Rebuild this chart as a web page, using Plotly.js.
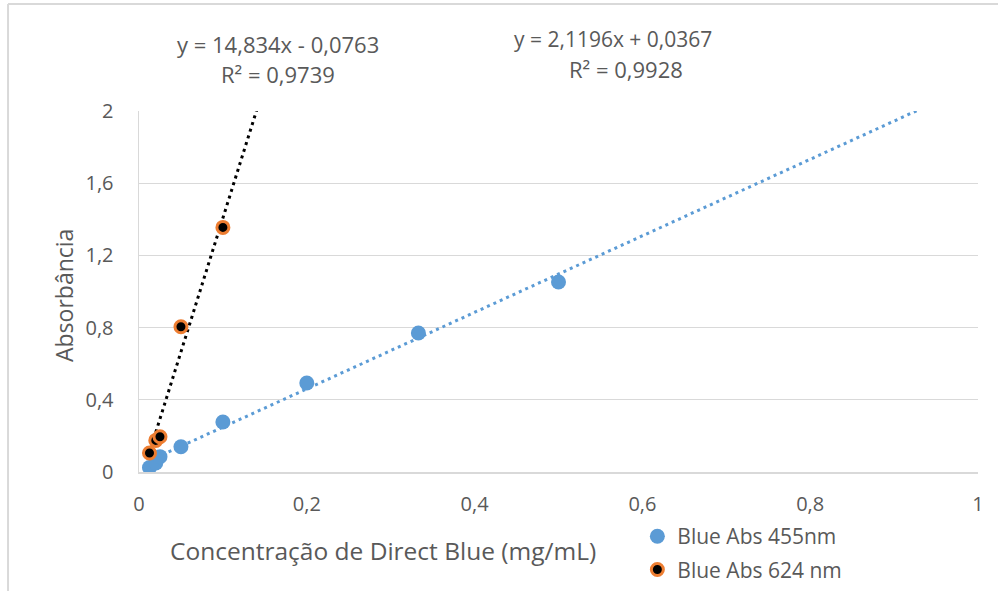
<!DOCTYPE html>
<html>
<head>
<meta charset="utf-8">
<script src="https://cdn.plot.ly/plotly-3.0.1.min.js"></script>
<style>
html,body{margin:0;padding:0;background:#fff;}
#chart{width:998px;height:591px;}
</style>
</head>
<body>
<div id="chart"></div>
<script>
// Data
var conc455 = [0.0125, 0.02, 0.025, 0.05, 0.1, 0.2, 0.333, 0.5];
var abs455  = [0.025, 0.05, 0.085, 0.14, 0.277, 0.493, 0.77, 1.053];
var conc624 = [0.0125, 0.02, 0.025, 0.05, 0.1];
var abs624  = [0.105, 0.175, 0.195, 0.805, 1.355];

// Trendline coefficients (from the equations shown on the chart)
var trendSlope = [2.1196, 14.834];
var trendIntercept = [0.0367, -0.0763];
var trendXEnd = [1, 1];

var seriesNames = ['Blue Abs 455nm', 'Blue Abs 624 nm'];
var eqTexts = ['y = 2,1196x + 0,0367', 'y = 14,834x - 0,0763'];
var r2Texts = ['R² = 0,9928', 'R² = 0,9739'];

var FONT = 'Open Sans, Liberation Sans, sans-serif';
var GRAY = '#595959';

function trend(i, xs) {
  var x0 = Math.min.apply(null, xs), x1 = trendXEnd[i];
  return {x: [x0, x1], y: [trendSlope[i]*x0 + trendIntercept[i], trendSlope[i]*x1 + trendIntercept[i]]};
}
var t0 = trend(0, conc455), t1 = trend(1, conc624);

var data = [
  {x: t0.x, y: t0.y, mode: 'lines', showlegend: false, hoverinfo: 'skip',
   line: {color: '#5B9BD5', width: 3, dash: '3px,4px'}},
  {x: t1.x, y: t1.y, mode: 'lines', showlegend: false, hoverinfo: 'skip',
   line: {color: '#000000', width: 3, dash: '3px,4px'}},
  {x: conc455, y: abs455, mode: 'markers', name: seriesNames[0], legendgroup: 'a',
   marker: {color: '#5B9BD5', size: 15, line: {width: 0}}},
  {x: conc624, y: abs624, mode: 'markers', name: seriesNames[1], legendgroup: 'b',
   marker: {color: '#000000', size: 12, line: {color: '#ED7D31', width: 3}}}
];

function ann(text, px, py, size, extra) {
  var a = {text: text, xref: 'paper', yref: 'paper', x: (px - 139) / 839, y: (472 - py) / 361,
           xanchor: 'center', yanchor: 'middle', showarrow: false,
           font: {family: FONT, size: size, color: GRAY}};
  if (extra) for (var k in extra) a[k] = extra[k];
  return a;
}

var layout = {
  width: 998, height: 591,
  margin: {l: 139, r: 20, t: 111, b: 119, autoexpand: false},
  paper_bgcolor: '#fff', plot_bgcolor: '#fff',
  separators: ', ',
  font: {family: FONT, color: GRAY, size: 20},
  showlegend: true,
  legend: {x: 0.594, y: -0.122, xanchor: 'left', yanchor: 'top', traceorder: 'grouped',
           font: {family: FONT, size: 21, color: GRAY}, tracegroupgap: 3,
           itemwidth: 30, bgcolor: 'rgba(0,0,0,0)'},
  xaxis: {range: [0, 1], dtick: 0.2, tick0: 0, showgrid: false, zeroline: false,
          showline: true, linecolor: '#D9D9D9', linewidth: 1.5,
          ticks: '', ticklabelstandoff: 13,
          tickfont: {family: FONT, size: 20, color: GRAY}},
  yaxis: {range: [0, 2], dtick: 0.4, tick0: 0, showgrid: true, gridcolor: '#D9D9D9', gridwidth: 1.3,
          zeroline: false, showline: true, linecolor: '#D9D9D9', linewidth: 1.5,
          ticks: '', ticklabelstandoff: 20,
          tickfont: {family: FONT, size: 20, color: GRAY}},
  annotations: [
    ann('Concentração de Direct Blue (mg/mL)', 383, 550, 24.5),
    ann('Absorbância', 64, 296, 23, {textangle: -90}),
    ann(eqTexts[1], 278, 44, 22),
    ann(r2Texts[1], 278, 74, 22),
    ann(eqTexts[0], 613, 39, 21),
    ann(r2Texts[0], 626, 69, 22)
  ],
  shapes: [
    {type: 'line', xref: 'paper', yref: 'paper', x0: -0.1561, x1: 1.03, y0: 1.2964, y1: 1.2964,
     line: {color: '#D9D9D9', width: 2}},
    {type: 'line', xref: 'paper', yref: 'paper', x0: -0.1561, x1: -0.1561, y0: 1.2964, y1: -0.34,
     line: {color: '#D9D9D9', width: 2}}
  ]
};

Plotly.newPlot('chart', data, layout, {displayModeBar: false, staticPlot: true});
</script>
</body>
</html>
